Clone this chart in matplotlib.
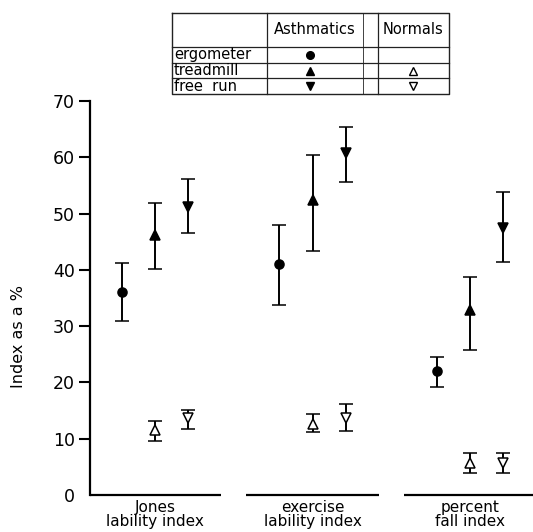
import matplotlib
matplotlib.use("Agg")
import matplotlib.pyplot as plt
import numpy as np

plt.rcParams['font.family'] = ['DejaVu Sans']

# ---- data ----
groups = ["Jones\nlability index", "exercise\nlability index", "percent\nfall index"]

asth_ergo = [36.1, 41.0, 22.0]
asth_ergo_hi = [41.3, 48.0, 24.6]
asth_ergo_lo = [31.0, 33.7, 19.1]

asth_tread = [46.2, 52.4, 32.9]
asth_tread_hi = [51.9, 60.4, 38.8]
asth_tread_lo = [40.1, 43.3, 25.8]

asth_free = [51.2, 60.7, 47.4]
asth_free_hi = [56.2, 65.3, 53.9]
asth_free_lo = [46.6, 55.6, 41.4]

norm_tread = [11.5, 12.7, 5.6]
norm_tread_hi = [13.1, 14.4, 7.4]
norm_tread_lo = [9.6, 11.2, 3.9]

norm_free = [13.7, 13.6, 5.6]
norm_free_hi = [15.1, 16.2, 7.4]
norm_free_lo = [11.8, 11.4, 3.9]

yticks = [0, 10, 20, 30, 40, 50, 60, 70]
ylabel = "Index as a %"

# ---- figure ----
W, H = 533, 532
fig = plt.figure(figsize=(W / 100, H / 100), dpi=100)
ax = fig.add_axes([90 / W, 1 - 495 / H, 443 / W, 394 / H])
ax.set_ylim(0, 70)
ax.set_xlim(-0.4127, 2.4)

gx = np.arange(len(groups))
off = 0.21

def eb(x, m, hi, lo, marker, ms, face):
    m = np.array(m); hi = np.array(hi); lo = np.array(lo)
    ax.errorbar(x, m, yerr=[m - lo, hi - m], fmt=marker, ms=ms, mfc=face,
                mec='black', mew=1.1, ecolor='black', elinewidth=1.4,
                capsize=4.8, capthick=1.7, color='black', zorder=3)

eb(gx - off, asth_ergo, asth_ergo_hi, asth_ergo_lo, 'o', 6.5, 'black')
eb(gx, asth_tread, asth_tread_hi, asth_tread_lo, '^', 7, 'black')
eb(gx + off, asth_free, asth_free_hi, asth_free_lo, 'v', 7, 'black')
eb(gx, norm_tread, norm_tread_hi, norm_tread_lo, '^', 6.5, 'white')
eb(gx + off, norm_free, norm_free_hi, norm_free_lo, 'v', 6.5, 'white')

for s in ['top', 'right', 'bottom']:
    ax.spines[s].set_visible(False)
ax.spines['left'].set_linewidth(1.6)
ax.spines['left'].set_bounds(0, 70)

ax.set_yticks(yticks)
ax.set_yticklabels([str(t) for t in yticks], fontsize=12.5)
ax.tick_params(axis='y', direction='out', length=8, width=1.5, pad=3)
ax.yaxis.get_major_ticks()[0].tick1line.set_visible(False)
ax.set_xticks([])

ax.set_ylabel(ylabel, fontsize=11.5)
ax.yaxis.set_label_coords(-0.145, 0.403)

# broken baseline segments
seg = 0.42
for i, g in enumerate(gx):
    left = max(g - seg, ax.get_xlim()[0])
    right = min(g + seg, ax.get_xlim()[1])
    ax.plot([left, right], [0, 0], color='black', lw=1.6, clip_on=False,
            solid_capstyle='butt', zorder=2)
    ax.text(g, -0.05, groups[i], transform=ax.get_xaxis_transform(),
            ha='center', va='center', fontsize=11, linespacing=0.95)

# ---- legend table (figure pixel coordinates) ----
tab = fig.add_axes([0, 0, 1, 1], facecolor='none')
tab.set_xlim(0, W)
tab.set_ylim(H, 0)
tab.axis('off')

L, R, T, B = 172, 449, 12.7, 94.3
rows = [46.7, 63.3, 78.3]
cols = [266.7, 363.3, 378.3]
lc = '#222222'
tab.plot([L, R, R, L, L], [T, T, B, B, T], color=lc, lw=1.0)
for r in rows:
    tab.plot([L, R], [r, r], color=lc, lw=0.9)
for c in cols:
    tab.plot([c, c], [T, B], color=lc, lw=0.9 if c != 363.3 else 0.6)

tab.text(315, 30, "Asthmatics", ha='center', va='center', fontsize=10.5)
tab.text(413.5, 30, "Normals", ha='center', va='center', fontsize=10.5)
row_labels = ["ergometer", "treadmill", "free  run"]
row_c = [55, 70.8, 86.3]
for lab, yc in zip(row_labels, row_c):
    tab.text(174, yc, lab, ha='left', va='center', fontsize=10.5)

tab.plot([310], [row_c[0]], 'o', ms=5.5, color='black')
tab.plot([310], [row_c[1]], '^', ms=6, color='black')
tab.plot([310], [row_c[2]], 'v', ms=6, color='black')
tab.plot([413], [row_c[1]], '^', ms=5.5, mfc='white', mec='black', mew=1)
tab.plot([413], [row_c[2]], 'v', ms=5.5, mfc='white', mec='black', mew=1)

fig.savefig("out.png", dpi=100)
